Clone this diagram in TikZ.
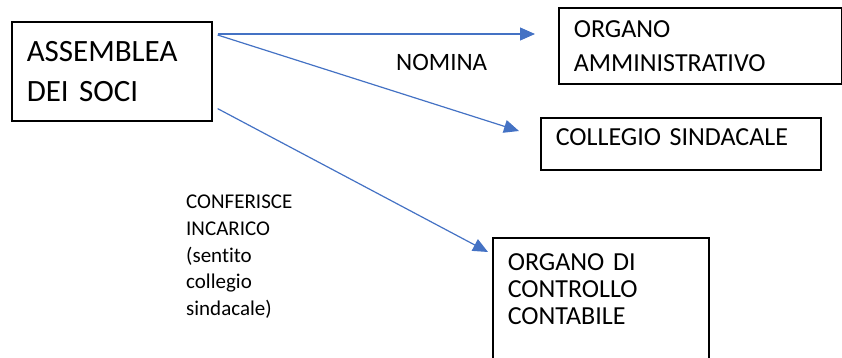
\documentclass[tikz,border=0pt]{standalone}
\usepackage{fontspec}
\setmainfont{Carlito}[Ligatures=NoCommon, WordSpace=0.75]
\usepackage{tikz}
\usetikzlibrary{positioning,arrows.meta}
\definecolor{arrblue}{RGB}{68,114,196}

\begin{document}
\begin{tikzpicture}[x=1pt, y=-1pt,
  orgbox/.style={rectangle, draw, line width=1.6pt, anchor=north west, align=left, inner xsep=15pt, inner ysep=0pt},
  arr/.style={draw=arrblue, line width=1.2pt, -{Triangle[length=15pt,width=13pt]}, arrblue},
  lbl/.style={anchor=north west, inner sep=0pt, align=left}]
\useasboundingbox (0,0) rectangle (842,358);

\node[orgbox, text width=170pt, minimum height=99pt, font={\fontsize{31}{40}\selectfont}] (asm) at (11,21) {ASSEMBLEA\\DEI SOCI};
\node[orgbox, text width=253pt, minimum height=76pt, font={\fontsize{26}{34}\selectfont}] (amm) at (558,7) {ORGANO\\AMMINISTRATIVO};
\node[orgbox, text width=250pt, minimum height=52pt, text depth=14pt, font={\fontsize{26}{34}\selectfont}] (col) at (540,117) {COLLEGIO SINDACALE};
\node[orgbox, text width=186pt, minimum height=138pt, font={\fontsize{26}{27}\selectfont}] (occ) at (492,237) {ORGANO DI\\CONTROLLO\\CONTABILE\\\strut};

\coordinate (tipA) at (535,34);
\coordinate (tipB) at (519,131);
\coordinate (tipC) at (488,252);

\draw[arr] ([xshift=5pt,yshift=-13pt]asm.north east) -- (tipA);
\draw[arr] ([xshift=5pt,yshift=-14pt]asm.north east) -- (tipB);
\draw[arr] ([xshift=5pt,yshift=13pt]asm.south east) -- (tipC);

\node[lbl, font={\fontsize{25}{30}\selectfont}] (nom) at (396,54) {NOMINA};
\node[lbl, font={\fontsize{21}{26.7}\selectfont}] (conf) at (186,195) {CONFERISCE\\INCARICO\\(sentito\\collegio\\sindacale)};
\end{tikzpicture}
\end{document}
